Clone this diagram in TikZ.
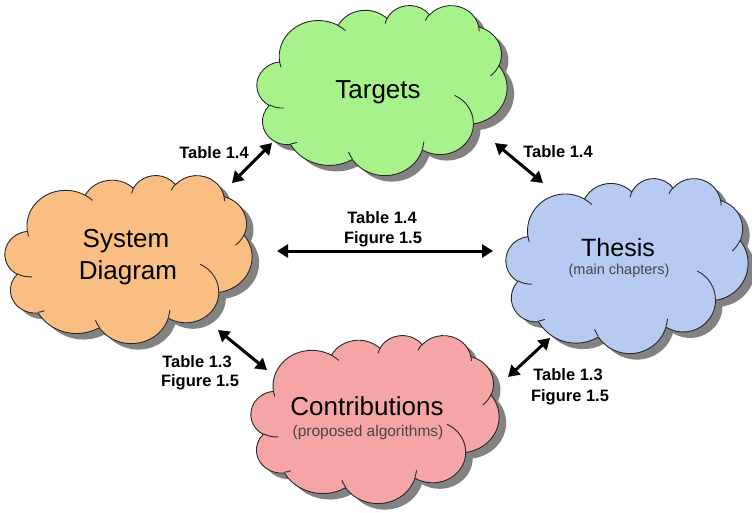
\documentclass[tikz,border=0pt]{standalone}
\usepackage{fontspec}
\setmainfont{Liberation Sans}
\usetikzlibrary{arrows.meta}
\definecolor{tgreen}{RGB}{168,242,140}
\definecolor{sorange}{RGB}{250,190,130}
\definecolor{tblue}{RGB}{182,202,242}
\definecolor{cpink}{RGB}{245,165,165}
\definecolor{shadowgray}{RGB}{130,130,130}
\definecolor{edge}{RGB}{40,40,40}
\definecolor{subgray}{RGB}{70,70,70}
% arc of a PowerPoint-style cloud: x radius, y radius, start angle, sweep (geometric angles)
\newcommand\carc[4]{arc[x radius=#1, y radius=#2,
  start angle={atan2((#1)*sin(#3),(#2)*cos(#3))},
  delta angle={mod(atan2((#1)*sin((#3)+(#4)),(#2)*cos((#3)+(#4)))-atan2((#1)*sin(#3),(#2)*cos(#3))+720,360)}]}
\newcommand\cloudbody{(39,143.7)
  \carc{67.53}{91.90}{-190.4875}{123.7805}
  \carc{53.33}{72.67}{-144.1024}{89.9452}
  \carc{43.65}{59.45}{-145.8079}{99.7230}
  \carc{48.57}{65.95}{-130.9861}{117.2417}
  \carc{53.33}{72.73}{-78.7089}{109.0269}
  \carc{67.75}{92.20}{-46.2673}{130.2690}
  \carc{57.85}{78.67}{0.6250}{114.0333}
  \carc{67.52}{92.15}{22.4516}{115.1726}
  \carc{77.20}{105.43}{66.2426}{75.7110}
  \carc{43.60}{59.18}{-274.9421}{146.7356}
  \carc{43.45}{59.45}{-246.8285}{152.5189} -- cycle}
\newcommand\cloudinner{(46.93,261.77) \carc{43.45}{59.45}{86.742}{26.4295}
  (69.28,348.99) \carc{43.60}{59.18}{73.6105}{11.4475}
  (164.78,390.90) \carc{67.52}{92.15}{137.6242}{14.0811}
  (288.27,347.51) \carc{67.52}{92.15}{6.4533}{15.9984}
  (341.29,229.54) \carc{57.85}{78.67}{-70.2924}{70.9174}
  (417.98,153.54) \carc{53.33}{72.73}{30.3180}{27.7515}
  (383.24,54.26) \carc{48.57}{65.95}{-13.7443}{14.8589}
  (290.78,39.52) \carc{48.57}{65.95}{-149.1815}{18.1954}
  (221.41,47.20) \carc{43.65}{59.45}{-163.4943}{17.6864}
  (140.00,51.92) \carc{67.53}{91.90}{-66.7070}{12.3194}
  (41.27,157.89) \carc{67.53}{91.90}{157.6544}{11.8582}}
\newcommand\cloudshadow[4]{%
  \begin{scope}[shift={(#1+7,#2+6)}, xscale=#3/432, yscale=#4/432]
    \fill[shadowgray] \cloudbody;
  \end{scope}}
\newcommand\cloudfill[5]{%
  \begin{scope}[shift={(#1,#2)}, xscale=#3/432, yscale=#4/432]
    \filldraw[fill=#5, draw=edge, line width=0.9pt] \cloudbody;
    \draw[edge, line width=0.9pt] \cloudinner;
  \end{scope}}
\begin{document}
\begin{tikzpicture}[x=1pt, y=1pt, yscale=-1,
  big/.style={font=\fontsize{26}{30}\selectfont, anchor=base, inner sep=0pt},
  sub/.style={text=subgray, anchor=base, inner sep=0pt},
  lbl/.style={font=\bfseries\fontsize{16.5}{20}\selectfont, anchor=base, inner sep=0pt},
  link/.style={line width=3pt, {Triangle[width=13pt,length=11pt]}-{Triangle[width=13pt,length=11pt]}}]
\useasboundingbox (0,0) rectangle (752,512);
% shadows
\cloudshadow{257}{5}{250}{170}
\cloudshadow{5}{175}{247}{168}
\cloudshadow{506}{178}{242}{175}
\cloudshadow{251}{335}{248}{168}
% clouds
\cloudfill{257}{5}{250}{170}{tgreen}
\cloudfill{5}{175}{247}{168}{sorange}
\cloudfill{506}{178}{242}{175}{tblue}
\cloudfill{251}{335}{248}{168}{cpink}
% cloud texts
\node[big] (targets) at (378,98) {Targets};
\node[big] (sys1) at (126,247) {System};
\node[big] (sys2) at (128,279) {Diagram};
\node[big, font=\fontsize{25}{29}\selectfont] (thesis) at (618,256) {Thesis};
\node[sub, font=\fontsize{14.5}{17}\selectfont] (thesissub) at (619,274) {(main chapters)};
\node[big] (contrib) at (367,415) {Contributions};
\node[sub, font=\fontsize{15.5}{18}\selectfont] (contribsub) at (368,436) {(proposed algorithms)};
% arrow end points
\coordinate (a1s) at (272,143); \coordinate (a1e) at (232,183);
\coordinate (a2s) at (495,143); \coordinate (a2e) at (543,183);
\coordinate (a3s) at (277,251); \coordinate (a3e) at (493,251);
\coordinate (a4s) at (218,330); \coordinate (a4e) at (267,370);
\coordinate (a5s) at (550,338); \coordinate (a5e) at (508,377);
\draw[link] (a1s) -- (a1e);
\draw[link] (a2s) -- (a2e);
\draw[link] (a3s) -- (a3e);
\draw[link] (a4s) -- (a4e);
\draw[link] (a5s) -- (a5e);
% labels
\node[lbl] (l1) at (214,158) {Table 1.4};
\node[lbl] (l2) at (558,157) {Table 1.4};
\node[lbl] (l3a) at (382,223) {Table 1.4};
\node[lbl] (l3b) at (383,243) {Figure 1.5};
\node[lbl] (l4a) at (197,367) {Table 1.3};
\node[lbl] (l4b) at (200,386) {Figure 1.5};
\node[lbl] (l5a) at (568,380) {Table 1.3};
\node[lbl] (l5b) at (570,401) {Figure 1.5};
\end{tikzpicture}
\end{document}
